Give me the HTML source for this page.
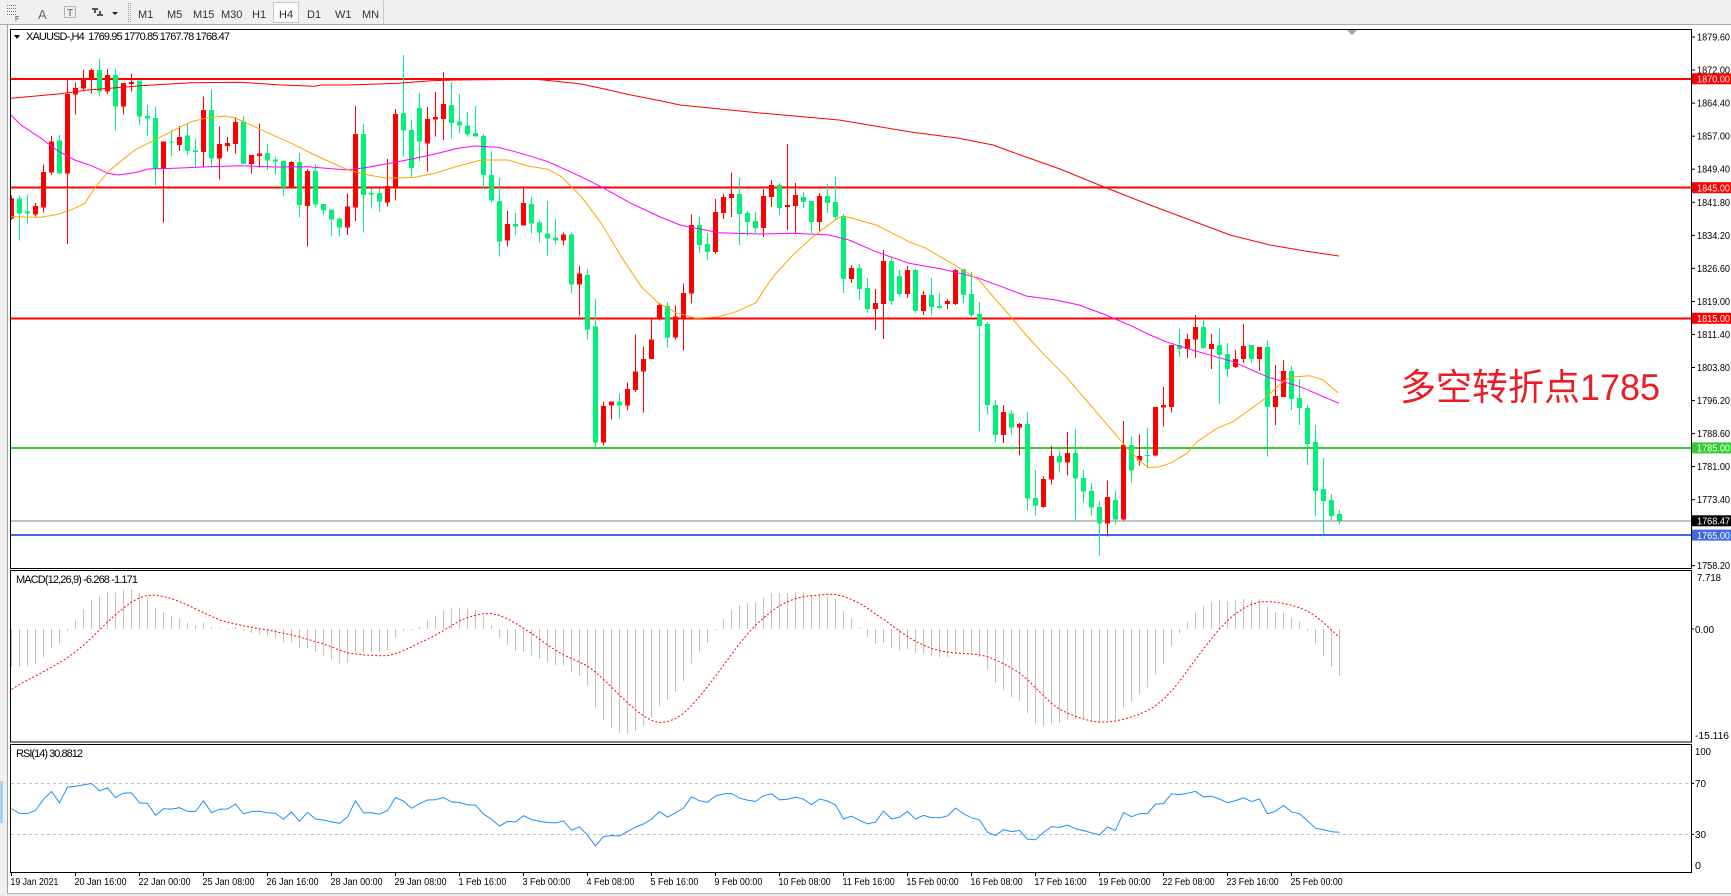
<!DOCTYPE html>
<html><head><meta charset="utf-8">
<style>
html,body{margin:0;padding:0;background:#fff;width:1731px;height:896px;overflow:hidden}
svg{display:block;font-family:"Liberation Sans",Arial,sans-serif}
</style></head><body>
<svg id="c" xmlns="http://www.w3.org/2000/svg" width="1731" height="896" viewBox="0 0 1731 896">
<defs>
<clipPath id="mainclip"><rect x="11" y="30" width="1680" height="538"/></clipPath>
<clipPath id="macdclip"><rect x="11" y="571" width="1680" height="171"/></clipPath>
<clipPath id="rsiclip"><rect x="11" y="745" width="1680" height="127"/></clipPath>
</defs>
<rect width="1731" height="896" fill="#fff"/>
<!-- toolbar -->
<rect x="0" y="0" width="1731" height="25" fill="#f0f0f0"/>
<line x1="0" y1="24.5" x2="1731" y2="24.5" stroke="#a8a8a8"/>
<g stroke="#777" stroke-dasharray="1,1" fill="none">
<line x1="7" y1="5.5" x2="17" y2="5.5"/><line x1="7" y1="8.5" x2="17" y2="8.5"/>
<line x1="7" y1="11.5" x2="17" y2="11.5"/><line x1="7" y1="14.5" x2="17" y2="14.5"/>
<rect x="64.5" y="6.5" width="11" height="11"/>
</g>
<text x="15" y="21" font-size="7" fill="#444">F</text>
<text x="38" y="19" font-size="13" fill="#666">A</text>
<text x="67" y="16" font-size="10" fill="#555">T</text>
<path d="M92 8 L98 8 L98 10 L96 10 L96 13 L94 13 L94 10 L92 10 Z M97 16 L103 16 L103 14 L101 14 L101 11 L99 11 L99 14 L97 14 Z" fill="#555"/>
<polygon points="112,12 118,12 115,15" fill="#222"/>
<line x1="128.5" y1="3" x2="128.5" y2="22" stroke="#999" stroke-dasharray="1,1"/>
<line x1="130.5" y1="3" x2="130.5" y2="22" stroke="#999" stroke-dasharray="1,1"/>
<rect x="273.5" y="2.5" width="25" height="20" fill="#fafafa" stroke="#c8c8c8"/>
<g font-size="11" fill="#333">
<text x="138" y="18">M1</text><text x="167" y="18">M5</text><text x="193" y="18">M15</text>
<text x="221" y="18">M30</text><text x="252" y="18">H1</text><text x="279" y="18">H4</text>
<text x="307" y="18">D1</text><text x="335" y="18">W1</text><text x="362" y="18">MN</text>
</g>
<line x1="383.5" y1="0" x2="383.5" y2="24" stroke="#c8c8c8"/>
<!-- left strip -->
<rect x="0" y="25" width="7" height="871" fill="#f0f0f0"/>
<rect x="0" y="781" width="3" height="42" fill="#a6d2f2"/>
<line x1="7.5" y1="25" x2="7.5" y2="893" stroke="#a0a0a0"/>
<!-- bottom -->
<rect x="0" y="893" width="1731" height="3" fill="#ececec"/>
<line x1="7" y1="893.5" x2="1731" y2="893.5" stroke="#b4b4b4"/>

<g id="lines" shape-rendering="crispEdges">
<rect x="11" y="77.8" width="1680" height="2" fill="#ff0000"/>
<rect x="11" y="186.7" width="1680" height="2" fill="#ff0000"/>
<rect x="11" y="317.3" width="1680" height="2" fill="#ff0000"/>
<rect x="11" y="446.9" width="1680" height="2" fill="#32cd32"/>
<rect x="11" y="520.3" width="1680" height="1" fill="#778899"/>
<rect x="11" y="534.1" width="1680" height="2" fill="#4169e1"/>
</g>
<g id="candles" clip-path="url(#mainclip)" shape-rendering="crispEdges"></g>
<g id="mas" clip-path="url(#mainclip)" fill="none" stroke-width="1"></g>
<g id="macd" clip-path="url(#macdclip)"></g>
<g id="rsi" clip-path="url(#rsiclip)"></g>

<!-- pane borders -->
<g fill="none" stroke="#000" shape-rendering="crispEdges">
<rect x="10.5" y="29.5" width="1681" height="539"/>
<rect x="10.5" y="570.5" width="1681" height="171.5"/>
<rect x="10.5" y="744.5" width="1681" height="128"/>
</g>
<polygon points="1347,30 1357,30 1352,35" fill="#a0a0a0"/>

<!-- header -->
<polygon points="14,35 20,35 17,39" fill="#000"/>
<text x="26" y="40" font-size="11" fill="#000" textLength="204" lengthAdjust="spacing" xml:space="preserve">XAUUSD-,H4  1769.95 1770.85 1767.78 1768.47</text>
<text x="16" y="583" font-size="11" fill="#000" textLength="122" lengthAdjust="spacing">MACD(12,26,9) -6.268 -1.171</text>
<text x="16" y="757" font-size="11" fill="#000" textLength="67" lengthAdjust="spacing">RSI(14) 30.8812</text>

<text x="1400" y="400" font-size="37" fill="#ec1c24" textLength="260" lengthAdjust="spacingAndGlyphs" style="font-family:'Liberation Sans','Noto Sans CJK SC',sans-serif">多空转折点1785</text>

<g id="axis" font-size="10" fill="#000"></g>
</svg>
<script>
const NS='http://www.w3.org/2000/svg';
function el(tag,attrs,parent){const e=document.createElementNS(NS,tag);for(const k in attrs)e.setAttribute(k,attrs[k]);parent.appendChild(e);return e;}
const svg=document.getElementById('c');
const Z9=[[460,520,452,525,'r'],[460,505,452,587,'g'],[500,506,450,535,'g'],[483,508,474,515,'r'],[381,488,358,503,'r'],[289,383,273,390,'r'],[286,386,270,386,'g'],[147,386,100,597,'r'],[129,149,113,209,'r'],[103,131,73,135,'r'],[75,101,70,146,'r'],[75,140,40,155,'g'],[90,140,72,147,'r'],[90,185,72,257,'g'],[114,185,114,209,'r'],[111,117,85,140,'r'],[107,215,107,240,'g'],[213,220,180,272,'g'],[219,372,184,421,'g'],[289,372,289,533,'r'],[289,292,255,335,'g'],[276,300,243,318,'r'],[272,318,235,330,'g'],[316,321,280,368,'g'],[195,321,155,365,'r'],[195,341,133,368,'g'],[297,341,245,403,'r'],[294,303,276,320,'r'],[231,297,216,326,'r'],[229,357,213,357,'g'],[330,357,330,386,'r'],[326,333,235,368,'r'],[324,347,297,375,'g'],[343,350,335,388,'g'],[348,427,348,455,'g'],[351,427,348,427,'r'],[351,480,324,518,'g'],[378,483,372,605,'r'],[378,478,357,488,'g'],[477,497,477,512,'g'],[494,524,494,575,'g'],[521,548,521,575,'g'],[485,548,446,570,'r']];
const Z10=[[222,443,138,483,'r'],[222,405,192,518,'g'],[399,404,385,446,'g'],[399,425,385,458,'g'],[378,428,297,440,'r'],[162,383,147,422,'r'],[159,212,-15,290,'g'],[210,324,180,354,'g'],[144,245,99,305,'g'],[177,251,141,335,'r'],[171,179,96,230,'r'],[132,177,36,240,'r'],[135,189,66,236,'g'],[185,197,102,221,'g'],[197,224,156,230,'g'],[219,230,138,230,'g'],[228,345,222,387,'g'],[345,422,273,428,'g'],[423,545,354,590,'g'],[492,542,453,560,'r'],[492,500,459,525,'g'],[429,497,385,497,'r'],[432,491,411,521,'g'],[488,518,482,548,'g'],[521,536,423,587,'g'],[533,542,477,554,'g'],[524,542,518,557,'r'],[524,674,518,700,'g'],[641,674,618,767,'r'],[645,808,627,838,'g'],[800,1148,716,1168,'g'],[1038,1148,1025,1157,'r'],[1025,1037,1025,1079,'r'],[1025,1037,1001,1076,'g'],[987,1037,968,1052,'r'],[935,990,824,996,'r'],[897,935,860,1058,'r'],[839,897,773,897,'r'],[735,775,728,782,'r'],[738,833,726,863,'g'],[769,833,737,840,'r']];
const Z11=[[519,598,491,692,'r'],[315,521,283,551,'r'],[315,375,291,399,'g'],[372,396,339,420,'g'],[276,396,237,402,'r'],[231,279,222,297,'r'],[222,234,158,291,'r'],[222,282,174,375,'g'],[279,306,273,348,'g'],[303,324,276,339,'g'],[228,324,207,351,'r'],[195,231,180,261,'r'],[195,264,189,285,'g'],[255,261,72,330,'r'],[225,258,189,339,'r'],[231,246,216,264,'g'],[243,306,243,339,'g'],[228,306,219,333,'r'],[228,249,192,279,'g'],[246,291,171,300,'g'],[288,477,282,519,'g'],[444,477,435,489,'r'],[444,507,432,540,'g'],[504,567,474,579,'g'],[549,567,507,630,'r'],[423,552,390,657,'r'],[423,543,411,555,'g'],[468,522,450,531,'g'],[450,522,438,534,'r'],[450,573,447,579,'g'],[525,573,513,585,'r'],[525,561,474,585,'g'],[558,564,519,567,'g'],[543,552,537,567,'r'],[450,552,447,555,'r'],[447,525,447,549,'g'],[522,585,456,591,'g'],[582,618,546,933,'g'],[612,855,606,882,'g'],[855,945,840,966,'g'],[876,945,855,969,'r']];
const Z12=[[430,473,420,493,'g'],[462,473,459,557,'r'],[462,686,426,722,'g'],[684,707,600,737,'g'],[627,711,620,714,'r'],[558,629,528,644,'r'],[558,578,543,608,'g'],[549,578,486,617,'r'],[549,626,477,755,'g'],[624,665,600,698,'g'],[663,713,639,737,'g'],[711,761,695,857,'g'],[681,761,632,800,'r'],[690,749,662,764,'g'],[525,749,453,752,'r'],[525,602,500,638,'g'],[558,572,494,587,'r'],[555,557,474,596,'g']];
const Z8=[[351,497,351,500,'r'],[345,353,291,410,'r'],[165,351,165,368,'r'],[165,177,117,201,'g'],[147,177,132,204,'r'],[111,149,75,204,'r'],[111,174,90,177,'g'],[162,177,132,237,'r'],[165,195,114,342,'g'],[192,237,159,261,'g'],[207,231,180,234,'r'],[168,207,102,219,'r'],[165,207,165,219,'g'],[171,207,171,243,'r'],[171,351,150,500,'g'],[318,351,225,405,'r'],[243,321,210,321,'r'],[243,327,228,360,'g'],[324,354,267,405,'g'],[354,462,345,525,'g'],[456,603,405,678,'g'],[597,633,504,732,'g'],[630,678,612,690,'g'],[672,692,660,702,'g']];
const segs=[[45,Z9],[60,Z10],[120,Z11],[270,Z12],[290,Z8]];
const C=[];
segs.forEach(([off,arr])=>arr.forEach(a=>C.push({bt:off+a[0]/3,bb:off+a[1]/3,wt:off+a[2]/3,wb:off+a[3]/3,r:a[4]==='r'})));
const gC=document.getElementById('candles');
C.forEach((c,i)=>{const x=11+8*i;const col=c.r?'#ff0000':'#00f07a';
 el('rect',{x:x,y:c.wt.toFixed(1),width:1,height:Math.max(1,c.wb-c.wt).toFixed(1),fill:col},gC);
 el('rect',{x:x-2,y:c.bt.toFixed(1),width:5,height:Math.max(1,c.bb-c.bt).toFixed(1),fill:col},gC);});
// MAs
const gM=document.getElementById('mas');
const red="10.7,98.3 58,94 88,90 141,85.7 191,82.7 241,82.3 281,85 315,86.3 321,85 348,85 398,83.3 431,80.7 455,80 535,79.3 551,80.7 581,84 601,88.3 631,95 665,101.7 680,105 720,109 760,113 800,116.5 839,120 909,131.7 959,138.3 993,145 1012,152 1060,169 1104,187 1150,205 1190,220 1230,235 1270,245 1305,251 1339,256";
const mag="10.7,115 21,125 41,138.3 58,151 74.7,160 91.3,165.7 108,173.3 118,175 134.7,172.7 148,169 174.7,168.3 208,166.7 241,165.7 274.7,167 308,166.7 334.7,169 348,170 368,167.3 398,161.7 431,155 458,148.3 474.7,146 498,147.3 521,153.3 548,161.7 581,176.7 601,186.7 631,203.3 658,216 680,225 696,228.3 719,232.7 759,234 793,233.3 829,235 849,240 876,251.7 909,263.3 943,269.3 976,277.3 1006,288.3 1026,296 1056,300 1079,305 1106,315 1133,326.7 1150,335 1166,341.7 1190,349.3 1233,361.7 1267,376.7 1300,386.7 1339,403.3";
const ora="10.7,216.7 41,217.3 58,214.3 74.7,208.3 84.7,203.3 94.7,188.3 108,171.7 134.7,150 158,138.3 191,121.7 208,117.7 224.7,116 234.7,117.7 258,128.3 291.3,143.3 314.7,155 348,170 368,175 388,178.3 414.7,177.3 434.7,173.3 458,166 481.3,160 508,160 528,166 548,169.3 561.3,176.7 581.3,196.7 601.3,223.3 621.3,256.7 641.3,286.7 658,302.7 676,312.7 696,318.3 719,316.7 736,311.7 756,302.7 766,286.7 776,273.3 793,255 809,240 826,226.7 839,217.3 849,217.3 876,225 909,241.7 926,248.3 943,258.3 963,270 979,280 996,300 1006,311 1026,335 1046,356.7 1066,376.7 1086,400 1106,423.3 1126,446.7 1139,460 1148,467.5 1159,467 1170,463.3 1187,453.3 1197,441.7 1217,428.3 1233,421.7 1263,400 1283,381.7 1290,377.3 1310,375.7 1323,380 1338,392.7";
el('polyline',{points:red,stroke:'#ff0000'},gM);
el('polyline',{points:mag,stroke:'#ff00ff'},gM);
el('polyline',{points:ora,stroke:'#ffa500'},gM);
// closes
const cl=C.map(c=>1879.6-((c.r?c.bt:c.bb)-37)/4.355);
let e26=cl[0]+6,e12=e26-5.1;const M=[e12-e26];
for(let i=1;i<cl.length;i++){e12+=2/13*(cl[i]-e12);e26+=2/27*(cl[i]-e26);M.push(e12-e26);}
const hist=[-11.1,-10.35,-9.6,-8.85,-8.1,-7.35,-6.6,-5.85].concat(M);
const S=M.map((_,i)=>{let s=0;for(let k=0;k<9;k++)s+=hist[i+k];return s/9;});
const my=v=>571+(7.718-v)*7.49;
const z0=my(0);
const gD=document.getElementById('macd');
M.forEach((v,i)=>{const y=my(v);el('rect',{x:11+8*i,y:Math.min(y,z0).toFixed(1),width:1,height:Math.max(1,Math.abs(y-z0)).toFixed(1),fill:'#c0c0c0','shape-rendering':'crispEdges'},gD);});
el('polyline',{points:S.map((v,i)=>(11.5+8*i)+','+my(v).toFixed(1)).join(' '),fill:'none',stroke:'#ff0000','stroke-width':1,'stroke-dasharray':'2,2'},gD);
// RSI
let ag=1.6,al=1.6;const R=[50];
for(let i=1;i<cl.length;i++){const d=cl[i]-cl[i-1];const g=Math.max(d,0),l=Math.max(-d,0);ag=(ag*13+g)/14;al=(al*13+l)/14;R.push(al===0?100:100-100/(1+ag/al));}
const ry=v=>872-v*1.27;
const gR=document.getElementById('rsi');
el('line',{x1:11,y1:783.5,x2:1690,y2:783.5,stroke:'#c0c0c0','stroke-dasharray':'3,3'},gR);
el('line',{x1:11,y1:834.5,x2:1690,y2:834.5,stroke:'#c0c0c0','stroke-dasharray':'3,3'},gR);
el('polyline',{points:R.map((v,i)=>(11.5+8*i)+','+ry(v).toFixed(1)).join(' '),fill:'none',stroke:'#1e90ff','stroke-width':1},gR);
// axis
const gA=document.getElementById('axis');
const pl=['1879.60','1872.00','1864.40','1857.00','1849.40','1841.80','1834.20','1826.60','1819.00','1811.40','1803.80','1796.20','1788.60','1781.00','1773.40'];
pl.forEach((t,k)=>{const y=37+33.05*k;el('line',{x1:1691,y1:y,x2:1695,y2:y,stroke:'#000'},gA);const e=el('text',{x:1697,y:(y+3.5).toFixed(1),textLength:33,lengthAdjust:'spacingAndGlyphs'},gA);e.textContent=t;});
{const y=565.7;const e=el('text',{x:1697,y:569,textLength:33,lengthAdjust:'spacingAndGlyphs'},gA);e.textContent='1758.20';el('line',{x1:1691,y1:y,x2:1695,y2:y,stroke:'#000'},gA);}
const boxes=[['1870.00',78.8,'#ff0000'],['1845.00',187.7,'#ff0000'],['1815.00',318.3,'#ff0000'],['1785.00',447.9,'#32cd32'],['1768.47',520.8,'#000000'],['1765.00',535.1,'#4169e1']];
boxes.forEach(([t,y,c])=>{el('rect',{x:1692,y:(y-5.5).toFixed(1),width:39,height:11,fill:c},gA);const e=el('text',{x:1697,y:(y+3.8).toFixed(1),fill:'#fff',textLength:33,lengthAdjust:'spacingAndGlyphs'},gA);e.textContent=t;});
[['7.718',1697,581,24],['0.00',1695,633,19],['-15.116',1695,739,34],['100',1695,755,16],['70',1695,787,11],['30',1695,838,11],['0',1695,869,6]].forEach(([t,x,y,w])=>{const e=el('text',{x:x,y:y,textLength:w,lengthAdjust:'spacingAndGlyphs'},gA);e.textContent=t;});
[629,783.5,834.5].forEach(y=>el('line',{x1:1691,y1:y,x2:1694,y2:y,stroke:'#000'},gA));
const dl=["19 Jan 2021","20 Jan 16:00","22 Jan 00:00","25 Jan 08:00","26 Jan 16:00","28 Jan 00:00","29 Jan 08:00","1 Feb 16:00","3 Feb 00:00","4 Feb 08:00","5 Feb 16:00","9 Feb 00:00","10 Feb 08:00","11 Feb 16:00","15 Feb 00:00","16 Feb 08:00","17 Feb 16:00","19 Feb 00:00","22 Feb 08:00","23 Feb 16:00","25 Feb 00:00"];
dl.forEach((t,k)=>{const x=11.5+64*k;el('line',{x1:x,y1:872,x2:x,y2:876,stroke:'#000'},gA);const e=el('text',{x:x-1,y:885},gA);e.setAttribute('textLength',(t.length*4.35).toFixed(1));e.setAttribute('lengthAdjust','spacingAndGlyphs');e.textContent=t;});
</script>
</body></html>
